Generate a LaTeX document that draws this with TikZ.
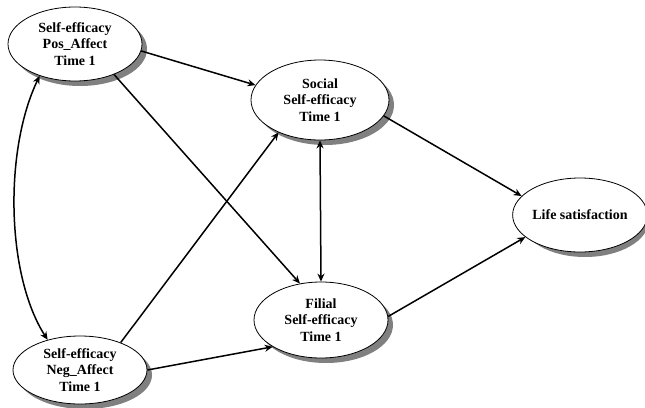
\documentclass[tikz,border=0pt]{standalone}
\usepackage{fontspec}
\setmainfont{Liberation Serif}
\usetikzlibrary{shapes.geometric,arrows.meta}
\begin{document}
\begin{tikzpicture}[x=1pt,y=-1pt,
  latent/.style={ellipse,draw=black,line width=0.8pt,fill=white,inner sep=0pt,
    align=center,font=\fontsize{14}{16.5}\selectfont\bfseries},
  shadowfill/.style={fill={rgb,255:red,128;green,128;blue,128}},
  path/.style={line width=1.5pt,-{Stealth[length=8pt,width=7pt]}},
  cov/.style={line width=1.5pt,{Stealth[length=8pt,width=7pt]}-{Stealth[length=8pt,width=7pt]}}]
\useasboundingbox (0,0) rectangle (645,407);
\path[shadowfill] (80,49) ellipse (67pt and 37pt);
\path[shadowfill] (85,375) ellipse (67pt and 34pt);
\path[shadowfill] (325,105) ellipse (69pt and 40pt);
\path[shadowfill] (326,325) ellipse (67pt and 38pt);
\path[shadowfill] (585,220) ellipse (64pt and 37pt);
\node[latent,minimum width=134pt,minimum height=74pt] (pos) at (75,44) {Self-efficacy\\Pos\_Affect\\Time 1};
\node[latent,minimum width=134pt,minimum height=68pt] (neg) at (80,370) {Self-efficacy\\Neg\_Affect\\Time 1};
\node[latent,minimum width=138pt,minimum height=80pt] (soc) at (320,100) {Social\\Self-efficacy\\Time 1};
\node[latent,minimum width=134pt,minimum height=76pt] (fil) at (321,320) {Filial\\Self-efficacy\\Time 1};
\node[latent,minimum width=128pt,minimum height=74pt] (life) at (580,215) {Life satisfaction};
\draw[path] (pos.-6) -- (soc.167);
\draw[path] (pos.-38) -- (fil.120);
\draw[path] (neg.34) -- (soc.218);
\draw[path] (neg.0) -- (fil.209);
\draw[cov] (soc.south) -- (fil.north);
\draw[path] (soc.-14) -- (life.162);
\draw[path] (fil.3) -- (life.202);
\draw[cov] (pos.222) .. controls (4,150) and (6,275) .. (neg.137);
\end{tikzpicture}
\end{document}
